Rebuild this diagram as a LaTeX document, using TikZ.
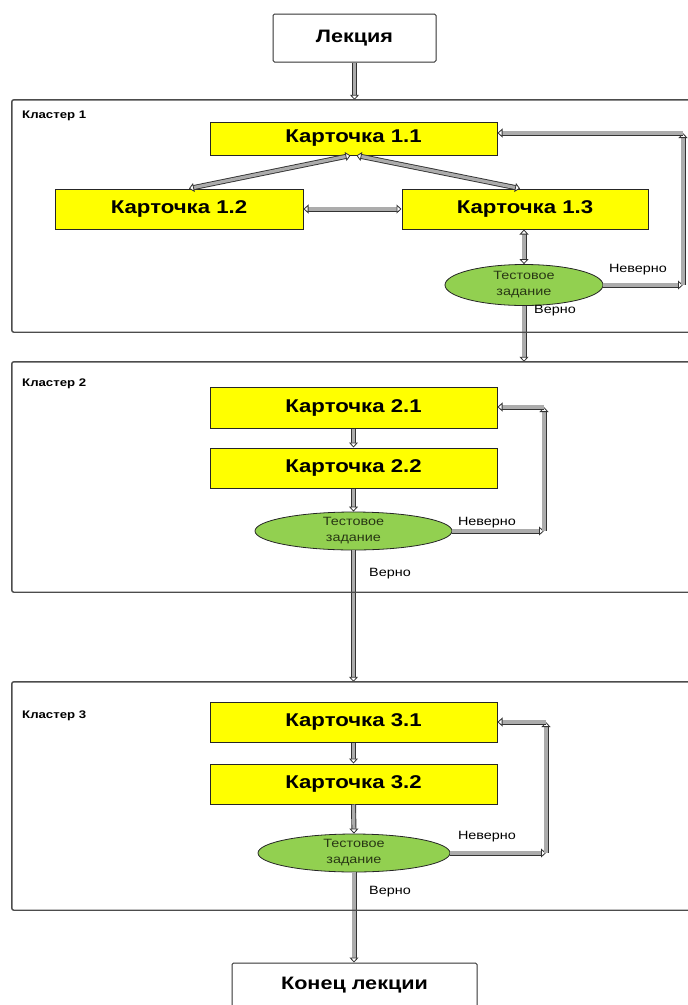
\documentclass[tikz,border=0pt]{standalone}
\usepackage{fontspec}
\setmainfont{Liberation Sans}[FakeStretch=1.2]
\usetikzlibrary{arrows.meta,shapes.geometric}
\definecolor{cardyellow}{RGB}{255,255,0}
\definecolor{testgreen}{RGB}{146,208,80}
\definecolor{testtext}{RGB}{40,55,20}
\begin{document}
\begin{tikzpicture}[x=1pt,y=-1pt,
  card/.style={draw=black!85, line width=1pt, fill=cardyellow, minimum width=287pt, minimum height=40pt, inner sep=0pt, font=\bfseries\fontsize{18.5}{20}\selectfont},
  plainbox/.style={draw=black!80, line width=1pt, fill=white, rounded corners=1.5pt, inner sep=0pt, font=\bfseries\fontsize{18}{20}\selectfont},
  test/.style={ellipse, draw=black!85, line width=0.8pt, fill=testgreen, inner sep=0pt, align=center, text=testtext, font=\fontsize{12}{16}\selectfont},
  cluster/.style={draw=black!70, line width=1.4pt, rounded corners=2pt, inner sep=0pt},
  clabel/.style={anchor=west, inner sep=0pt, font=\bfseries\fontsize{11}{12}\selectfont},
  lbl/.style={inner sep=0pt, font=\fontsize{12}{13}\selectfont},
  tip/.tip={Triangle[color=black!80, fill=white, line width=0.8pt, length=5pt, width=9pt]},
  conn/.style={draw=gray!65, line width=3.2pt, -tip,
    preaction={draw=black!80, line width=5pt, -, shorten >=3pt}},
  biconn/.style={draw=gray!65, line width=3.2pt, tip-tip,
    preaction={draw=black!80, line width=5pt, -, shorten >=3pt, shorten <=3pt}}
]
\useasboundingbox (0,0) rectangle (688,1005);
\clip (0,0) rectangle (688,1005);

% cluster frames (names and positions; drawn on top of the connectors later)
\path (350,216) node[minimum width=676pt, minimum height=232pt, inner sep=0pt] (cl1) {};
\path (350,477) node[minimum width=676pt, minimum height=230pt, inner sep=0pt] (cl2) {};
\path (350,796) node[minimum width=676pt, minimum height=228pt, inner sep=0pt] (cl3) {};
\node[clabel] (cl1l) at (22,116) {Кластер 1};
\node[clabel] (cl2l) at (22,384) {Кластер 2};
\node[clabel] (cl3l) at (22,716) {Кластер 3};

% top and bottom boxes
\node[plainbox, minimum width=163pt, minimum height=48pt] (lect) at (354.5,38) {Лекция};
\node[plainbox, minimum width=245pt, minimum height=60pt] (endl) at (354.5,993) {};
\node[inner sep=0pt, font=\bfseries\fontsize{18}{20}\selectfont] (endt) at (354.5,985) {Конец лекции};

% cluster 1
\node[card, minimum height=33pt] (c11) at (353.5,138.5) {Карточка 1.1};
\node[card, minimum width=248pt] (c12) at (179,209) {Карточка 1.2};
\node[card, minimum width=246pt] (c13) at (525,209) {Карточка 1.3};
\node[test, minimum width=158pt, minimum height=41pt] (t1) at (524,285) {Тестовое\\задание};
\node[lbl] (n1) at (638,270) {Неверно};
\node[lbl] (v1) at (555,311) {Верно};

% cluster 2
\node[card, minimum height=41pt] (c21) at (353.5,407.5) {Карточка 2.1};
\node[card] (c22) at (353.5,468) {Карточка 2.2};
\node[test, minimum width=197pt, minimum height=38pt] (t2) at (353.5,531) {Тестовое\\задание};
\node[lbl] (n2) at (487,523) {Неверно};
\node[lbl] (v2) at (390,574) {Верно};

% cluster 3
\node[card] (c31) at (353.5,722) {Карточка 3.1};
\node[card] (c32) at (353.5,784) {Карточка 3.2};
\node[test, minimum width=192pt, minimum height=38pt] (t3) at (354,853) {Тестовое\\задание};
\node[lbl] (n3) at (487,837) {Неверно};
\node[lbl] (v3) at (390,892) {Верно};

% corners of the loops
\coordinate (r1a) at (683,285);
\coordinate (r1b) at (683,133);
\coordinate (r2a) at (544,531);
\coordinate (r2b) at (544,407);
\coordinate (r3a) at (546,853);
\coordinate (r3b) at (546,722);

% connectors
\draw[conn] (lect.south) -- (lect.south |- cl1.north);
\draw[biconn] ([xshift=-3pt]c11.south) -- ([xshift=10pt]c12.north);
\draw[biconn] ([xshift=3pt]c11.south) -- ([xshift=-5pt]c13.north);
\draw[biconn] (c12.east) -- (c13.west);
\draw[biconn] (t1.north |- c13.south) -- (t1.north);
\draw[conn] (t1.east) -- (r1a);
\draw[conn] (r1a) -- (r1b);
\draw[conn] (r1b) -- (r1b -| c11.east);
\draw[conn] (t1.south) -- (t1.south |- cl2.north);

\draw[conn] (c21.south) -- (c22.north);
\draw[conn] (c22.south) -- (t2.north);
\draw[conn] (t2.east) -- (r2a);
\draw[conn] (r2a) -- (r2b);
\draw[conn] (r2b) -- (r2b -| c21.east);
\draw[conn] (t2.south) -- (t2.south |- cl3.north);

\draw[conn] (c31.south) -- (c32.north);
\draw[conn] (c32.south) -- (t3.north);
\draw[conn] (t3.east) -- (r3a);
\draw[conn] (r3a) -- (r3b);
\draw[conn] (r3b) -- (r3b -| c31.east);
\draw[conn] (t3.south) -- (t3.south |- endl.north);

% cluster frames on top; right side runs past the page edge
\draw[cluster] (cl1.north west) rectangle ([xshift=12pt]cl1.south east);
\draw[cluster] (cl2.north west) rectangle ([xshift=12pt]cl2.south east);
\draw[cluster] (cl3.north west) rectangle ([xshift=12pt]cl3.south east);
\end{tikzpicture}
\end{document}
